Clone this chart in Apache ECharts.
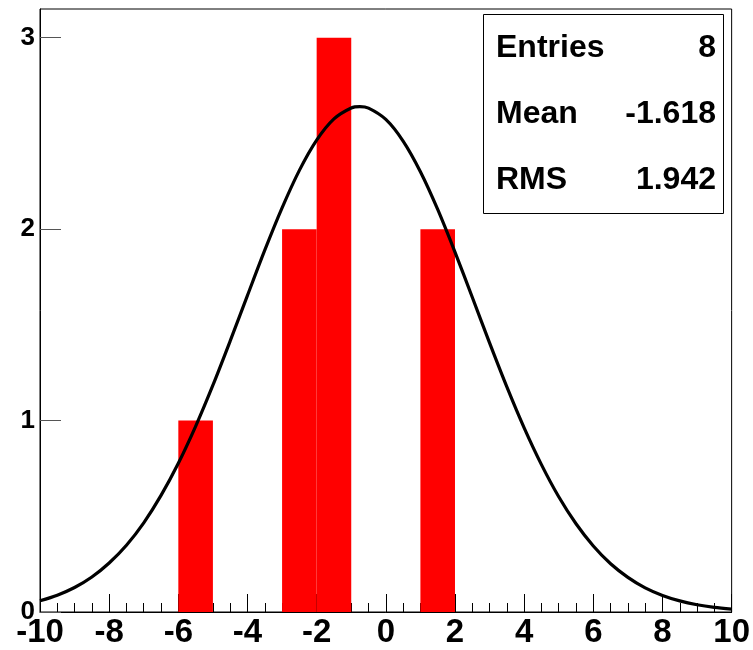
<!DOCTYPE html>
<html><head><meta charset="utf-8">
<script src="https://cdn.jsdelivr.net/npm/echarts@6/dist/echarts.min.js"></script>
<style>html,body{margin:0;padding:0;background:#fff}#c{width:753px;height:650px}</style>
</head><body><div id="c"></div>
<script>
// Histogram bins (width 1) from -10 to 10
const binLow = [-10,-9,-8,-7,-6,-5,-4,-3,-2,-1,0,1,2,3,4,5,6,7,8,9];
const binCounts = [0,0,0,0,1,0,0,2,3,0,0,2,0,0,0,0,0,0,0,0];
const binWidth = 1;
// Fitted curve
const curveX = [-10,-9.5,-9,-8.5,-8,-7.5,-7,-6.5,-6,-5.5,-5,-4.5,-4,-3.5,-3,-2.5,-2,-1.5,-1,-0.75,-0.5,0,0.5,1,1.5,2,2.5,3,3.5,4,4.5,5,5.5,6,6.5,7,7.5,8,8.5,9,9.5,10];
const curveY = [0.059,0.088,0.128,0.183,0.256,0.349,0.466,0.609,0.777,0.970,1.185,1.416,1.654,1.890,2.111,2.307,2.465,2.576,2.633,2.640,2.632,2.573,2.460,2.300,2.103,1.880,1.644,1.406,1.176,0.962,0.770,0.602,0.461,0.345,0.252,0.181,0.126,0.0865,0.0579,0.0379,0.0243,0.0152];
const statNames = ['Entries','Mean','RMS'];
const statValues = ['8','-1.618','1.942'];

const F = '"Liberation Sans", Arial, Helvetica, sans-serif';
const chart = echarts.init(document.getElementById('c'), null, {renderer:'canvas'});

const histData = binLow.map((x,i)=>[x, x+binWidth, binCounts[i]]);
const curveData = curveX.map((x,i)=>[x, curveY[i]]);

const statGraphics = [{
  type:'rect', left:483, top:14, shape:{width:240,height:199},
  style:{fill:'#fff', stroke:'#000', lineWidth:1}, z:100
}];
const rowY = [48,114,180];
statNames.forEach((n,i)=>{
  statGraphics.push({type:'text', x:496, y:rowY[i], z:101,
    style:{text:n, font:'bold 32px '+F, fill:'#000', textAlign:'left', textVerticalAlign:'middle'}});
  statGraphics.push({type:'text', x:716, y:rowY[i], z:101,
    style:{text:statValues[i], font:'bold 32px '+F, fill:'#000', textAlign:'right', textVerticalAlign:'middle'}});
});

chart.setOption({
  animation:false,
  backgroundColor:'#fff',
  grid:{left:40, right:20, top:9, bottom:38, show:true, borderColor:'#000', borderWidth:1, backgroundColor:'transparent'},
  xAxis:{type:'value', min:-10, max:10, interval:2,
    axisLine:{show:true, onZero:false, lineStyle:{color:'#000', width:1}},
    axisTick:{show:true, inside:true, length:18, lineStyle:{color:'#000', width:1}},
    minorTick:{show:true, splitNumber:4, length:9, lineStyle:{color:'#000', width:1}},
    splitLine:{show:false},
    axisLabel:{color:'#000', fontFamily:F, fontWeight:'bold', fontSize:33, margin:4}
  },
  yAxis:{type:'value', min:0, max:3.15, interval:1,
    axisLine:{show:true, onZero:false, lineStyle:{color:'#000', width:1}},
    axisTick:{show:true, inside:true, length:21, lineStyle:{color:'#555', width:1}},
    splitLine:{show:false},
    axisLabel:{color:'#000', fontFamily:F, fontWeight:'bold', fontSize:26, margin:5, showMaxLabel:false,
      formatter:v=> (Math.abs(v-Math.round(v))<1e-9 ? String(Math.round(v)) : '')}
  },
  series:[
    {type:'custom', z:2,
     renderItem:(params, api)=>{
       const c = api.value(2);
       if(!c) return null;
       const p0 = api.coord([api.value(0), c]);
       const p1 = api.coord([api.value(1), 0]);
       return {type:'rect', shape:{x:p0[0], y:p0[1], width:p1[0]-p0[0], height:p1[1]-p0[1]},
         style:{fill:'#ff0000'}};
     },
     encode:{x:[0,1], y:2},
     data:histData},
    {type:'line', z:3, data:curveData, smooth:0.3, showSymbol:false,
     lineStyle:{color:'#000', width:3.2, join:'round'}}
  ],
  graphic:statGraphics
});
</script></body></html>
